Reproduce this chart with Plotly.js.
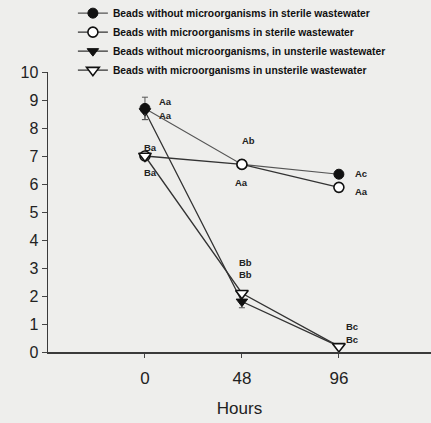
<!DOCTYPE html>
<html>
<head>
<meta charset="utf-8">
<script src="https://cdn.plot.ly/plotly-3.0.1.min.js"></script>
<style>
html,body{margin:0;padding:0;background:#eeeeec;}
#chart{width:431px;height:423px;}
</style>
</head>
<body>
<div id="chart"></div>
<script>
// Data
var hours = [0, 48, 96];
var sterileNoMicro = [8.7, 6.7, 6.35];
var sterileNoMicroErr = [0.4, 0, 0];
var sterileMicro = [7.0, 6.7, 5.88];
var unsterileNoMicro = [8.6, 1.8, 0.2];
var unsterileNoMicroErrMinus = [0.3, 0.22, 0];
var unsterileMicro = [7.0, 2.1, 0.2];
var seriesNames = [
  "Beads without microorganisms in sterile wastewater",
  "Beads with microorganisms in sterile wastewater",
  "Beads without microorganisms, in unsterile wastewater",
  "Beads with microorganisms in unsterile wastewater"
];
var tickVals = [0, 48, 96];
var tickText = ["0", "48", "96"];
var labelText = ["Aa","Aa","Ba","Ba","Ab","Aa","Ac","Aa","Bb","Bb","Bc","Bc"];
var labelX = [6, 6, 2.5, 2.5, 51.5, 48, 103, 103, 50, 50, 98.5, 98.5];
var labelY = [8.96, 8.46, 7.3, 6.4, 7.57, 6.07, 6.36, 5.75, 3.2, 2.78, 0.9, 0.46];
var labelAnchor = ["left","left","center","center","center","center","left","left","center","center","left","left"];

var lineColor = "#333333";
var traces = [
  {x: hours, y: unsterileNoMicro, name: seriesNames[2], legendrank: 3, mode: "lines+markers",
   line: {color: lineColor, width: 1.3},
   marker: {symbol: "triangle-down", size: 10, color: "#111", line: {color: "#111", width: 1}},
   error_y: {type: "data", symmetric: false, array: [0,0,0], arrayminus: unsterileNoMicroErrMinus, color: "#555", thickness: 1, width: 3}},
  {x: hours, y: sterileNoMicro, name: seriesNames[0], legendrank: 1, mode: "lines+markers",
   line: {color: "#555", width: 1.1},
   marker: {symbol: "circle", size: 10, color: "#111", line: {color: "#111", width: 1}},
   error_y: {type: "data", array: sterileNoMicroErr, color: "#555", thickness: 1, width: 3}},
  {x: hours, y: sterileMicro, name: seriesNames[1], legendrank: 2, mode: "lines+markers",
   line: {color: lineColor, width: 1.3},
   marker: {symbol: "circle", size: 10, color: "#ffffff", line: {color: "#111", width: 1.6}}},
  {x: hours, y: unsterileMicro, name: seriesNames[3], legendrank: 4, mode: "lines+markers",
   line: {color: lineColor, width: 1.3},
   marker: {symbol: "triangle-down", size: 11, color: "#ffffff", line: {color: "#111", width: 1.6}}}
];

var annotations = labelText.map(function(t, i){
  return {x: labelX[i], y: labelY[i], xref: "x", yref: "y", text: t, showarrow: false,
          xanchor: labelAnchor[i], yanchor: "middle",
          font: {family: "Arial, Liberation Sans, sans-serif", size: 9.5, color: "#222", weight: "bold"}};
});

var layout = {
  width: 431, height: 423,
  margin: {l: 48, r: 0, t: 72, b: 71, autoexpand: false},
  paper_bgcolor: "#eeeeec", plot_bgcolor: "#eeeeec",
  showlegend: true,
  legend: {x: 0.065, y: 1.262, xanchor: "left", yanchor: "top", bgcolor: "rgba(0,0,0,0)",
           font: {family: "Arial, Liberation Sans, sans-serif", size: 10.3, color: "#111", weight: "bold"},
           tracegroupgap: 0, itemwidth: 30},
  xaxis: {range: [-48, 141.6], tickvals: tickVals, ticktext: tickText, ticks: "outside", ticklen: 4,
          tickcolor: "#444", showgrid: false, zeroline: false, showline: true, linecolor: "#3a3a3a", linewidth: 1.5,
          ticklabelstandoff: 6,
          tickfont: {family: "Arial, Liberation Sans, sans-serif", size: 17, color: "#222"},
          title: {text: "Hours", font: {family: "Arial, Liberation Sans, sans-serif", size: 17, color: "#222"}, standoff: 15}},
  yaxis: {range: [0, 10], dtick: 1, ticks: "outside", ticklen: 5, tickcolor: "#444", showgrid: false, zeroline: false,
          showline: true, linecolor: "#3a3a3a", linewidth: 1.5,
          tickfont: {family: "Arial, Liberation Sans, sans-serif", size: 16, color: "#222"}},
  annotations: annotations
};

Plotly.newPlot("chart", traces, layout, {displayModeBar: false, staticPlot: true});
</script>
</body>
</html>
